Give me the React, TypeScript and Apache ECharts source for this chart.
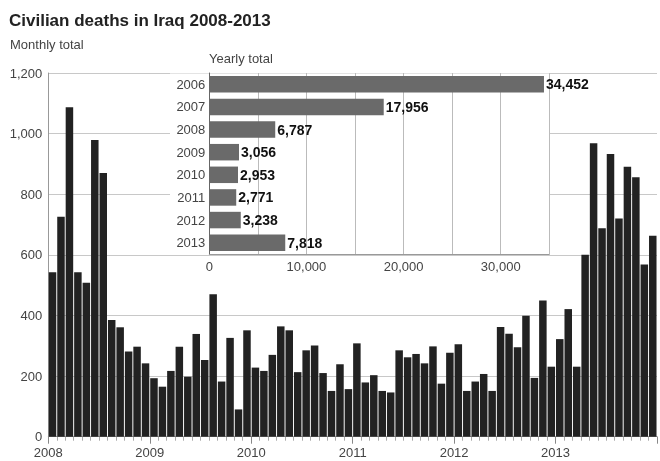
import React, { useEffect, useRef } from "react";
import * as echarts from "echarts";

const FONT = '"Liberation Sans", Arial, Helvetica, sans-serif';

const monthly2008 = [543, 726, 1087, 543, 508, 979, 870, 385, 361, 281, 297, 242];
const monthly2009 = [193, 165, 217, 297, 198, 339, 253, 470, 182, 326, 90, 351];
const monthly2010 = [228, 217, 270, 364, 351, 213, 285, 301, 210, 151, 239, 157];
const monthly2011 = [308, 179, 203, 151, 146, 285, 262, 273, 242, 298, 175, 277];
const monthly2012 = [305, 151, 182, 207, 151, 362, 340, 295, 399, 194, 449, 231];
const monthly2013 = [322, 421, 231, 600, 968, 688, 933, 720, 891, 856, 568, 663];

const firstYear = 2008;
const yearLabels = ["2006", "2007", "2008", "2009", "2010", "2011", "2012", "2013"];
const yearlyTotals = [34452, 17956, 6787, 3056, 2953, 2771, 3238, 7818];

const monthly = [
  ...monthly2008,
  ...monthly2009,
  ...monthly2010,
  ...monthly2011,
  ...monthly2012,
  ...monthly2013,
];

const fmt = (v: number) => v.toLocaleString("en-US");

export default function App() {
  const ref = useRef<HTMLDivElement>(null);
  useEffect(() => {
    if (!ref.current) return;
    const chart = echarts.init(ref.current, undefined, { renderer: "svg" });
    const labelStyle = { color: "#444", fontSize: 13, fontFamily: FONT };
    chart.setOption({
      animation: false,
      textStyle: { fontFamily: FONT },
      grid: [
        { left: 48.3, top: 73, width: 616.4, height: 363.7 },
        { left: 209.3, top: 73, width: 340, height: 181 },
      ],
      xAxis: [
        {
          gridIndex: 0,
          type: "value",
          min: 0,
          max: monthly.length,
          interval: 12,
          axisLine: { show: true, lineStyle: { color: "#999" } },
          axisTick: { show: true, length: 7, lineStyle: { color: "#888" } },
          minorTick: { show: true, splitNumber: 12, length: 4, lineStyle: { color: "#aaa" } },
          splitLine: { show: false },
          axisLabel: {
            ...labelStyle,
            margin: 9,
            formatter: (v: number) => (v < monthly.length ? String(firstYear + v / 12) : ""),
          },
        },
        {
          gridIndex: 1,
          type: "value",
          min: 0,
          max: 35000,
          interval: 5000,
          z: 10,
          axisLine: { show: true, lineStyle: { color: "#999" } },
          axisTick: { show: false },
          splitLine: { show: true, lineStyle: { color: "#bbb" } },
          axisLabel: {
            ...labelStyle,
            margin: 6,
            formatter: (v: number) => (v % 10000 === 0 && v < 35000 ? fmt(v) : ""),
          },
        },
      ],
      yAxis: [
        {
          gridIndex: 0,
          type: "value",
          min: 0,
          max: 1200,
          interval: 200,
          axisLine: { show: true, lineStyle: { color: "#999" } },
          axisTick: { show: false },
          splitLine: { show: true, lineStyle: { color: "#c8c8c8" } },
          axisLabel: { ...labelStyle, margin: 6, formatter: (v: number) => fmt(v) },
        },
        {
          gridIndex: 1,
          type: "category",
          data: yearLabels,
          inverse: true,
          z: 10,
          axisLine: { show: true, lineStyle: { color: "#666" } },
          axisTick: { show: false },
          axisLabel: { ...labelStyle, margin: 4 },
        },
      ],
      series: [
        {
          type: "bar",
          xAxisIndex: 0,
          yAxisIndex: 0,
          data: monthly.map((v, i) => [i + 0.5, v]),
          barWidth: 7.5,
          itemStyle: { color: "#222" },
        },
        {
          type: "bar",
          xAxisIndex: 1,
          yAxisIndex: 1,
          data: yearlyTotals,
          barWidth: 16.5,
          z: 10,
          itemStyle: { color: "#6a6a6a" },
          label: {
            show: true,
            position: "right",
            distance: 2,
            formatter: (p: any) => fmt(p.value),
            fontWeight: "bold",
            fontSize: 14,
            color: "#111",
            fontFamily: FONT,
          },
        },
      ],
      graphic: {
        elements: [
          {
            type: "rect",
            z: 5,
            shape: { x: 170, y: 73.5, width: 379.5, height: 180 },
            style: { fill: "#fff" },
          },
          {
            type: "text",
            x: 9,
            y: 20.5,
            style: {
              text: "Civilian deaths in Iraq 2008-2013",
              fontSize: 17,
              fontWeight: "bold",
              fontFamily: FONT,
              fill: "#222",
              verticalAlign: "middle",
            },
          },
          {
            type: "text",
            x: 10,
            y: 44.5,
            style: {
              text: "Monthly total",
              fontSize: 13,
              fontFamily: FONT,
              fill: "#444",
              verticalAlign: "middle",
            },
          },
          {
            type: "text",
            x: 209,
            y: 58.5,
            style: {
              text: "Yearly total",
              fontSize: 13,
              fontFamily: FONT,
              fill: "#444",
              verticalAlign: "middle",
            },
          },
        ],
      },
    });
    return () => chart.dispose();
  }, []);
  return (
    <div
      ref={ref}
      style={{ position: "fixed", left: 0, top: 0, width: 660, height: 461 }}
    />
  );
}
